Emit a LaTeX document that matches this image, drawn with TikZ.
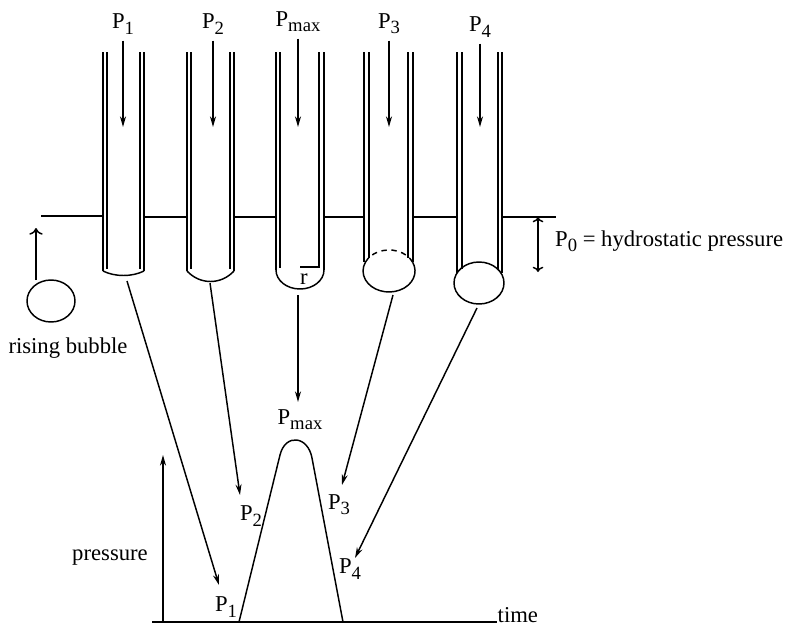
\documentclass[tikz,border=0pt]{standalone}
\usepackage{fontspec}
\setmainfont{Liberation Serif}
\usetikzlibrary{arrows.meta}
\newcommand{\Psub}[1]{P\raisebox{-0.5ex}{\fontsize{14}{14}\selectfont #1}}

\begin{document}
\begin{tikzpicture}[x=0.75pt,y=0.75pt,yscale=-1,xscale=1,line width=1.1pt,
  font=\fontsize{17}{20}\selectfont,
  arr/.style={-{Stealth[length=8pt,width=4.5pt]}},
  openarr/.style={-{To[length=5pt,width=10pt]}}]
\useasboundingbox (0,0) rectangle (786,625);

% Text Node: pressures applied at the top of each tube
\node (tP1) at (123,24) {\Psub{1}};
\node (tP2) at (213,24) {\Psub{2}};
\node (tPmax) at (298,22) {\Psub{max}};
\node (tP3) at (389,24) {\Psub{3}};
\node (tP4) at (480,27) {\Psub{4}};
\coordinate (e1) at (123,127);
\coordinate (e2) at (213,127);
\coordinate (e3) at (298,127);
\coordinate (e4) at (389,127);
\coordinate (e5) at (480,127);
\draw[arr, shorten <=1pt] (tP1) -- (e1);
\draw[arr, shorten <=1pt] (tP2) -- (e2);
\draw[arr, shorten <=1pt] (tPmax) -- (e3);
\draw[arr, shorten <=1pt] (tP3) -- (e4);
\draw[arr, shorten <=1pt] (tP4) -- (e5);

%Straight Lines: liquid surface between the tubes
\draw (41,216) -- (103,216);
\draw (144,217) -- (187,217);
\draw (234,217) -- (276,217);
\draw (324,217) -- (364,217);
\draw (413,217) -- (457,217);
\draw (502,217) -- (556,217);

%Shape: Tube 1, flat meniscus
\draw (103,52) -- (103,271);
\draw (107,52) -- (107,269);
\draw (140,52) -- (140,269);
\draw (144,52) -- (144,271);
\draw (103,271) .. controls (115,277) and (132,277) .. (144,271);

%Shape: Tube 2, curved meniscus
\draw (187,52) -- (187,271);
\draw (191,52) -- (191,269);
\draw (230,52) -- (230,269);
\draw (234,52) -- (234,271);
\draw (187,271) .. controls (200,285) and (221,285) .. (234,271);

%Shape: Tube 3, hemisphere of radius r
\draw (276,52) -- (276,270);
\draw (280,52) -- (280,268);
\draw (319,52) -- (319,268);
\draw (324,52) -- (324,270);
\draw (324,270) arc[start angle=0,end angle=180,x radius=24,y radius=19];
\draw (300,267) -- (319,267);
\node (rlab) at (304,279) {r};

%Shape: Tube 4, bubble growing past the tip
\draw (364,52) -- (364,262);
\draw (369,52) -- (369,258);
\draw (408,52) -- (408,258);
\draw (413,52) -- (413,262);
\draw (412.6,262.1) arc[start angle=-25,end angle=205,x radius=26,y radius=21];
\draw[dash pattern=on 4pt off 3.5pt] (412.6,262.1) arc[start angle=-25,end angle=-155,x radius=26,y radius=21];

%Shape: Tube 5, detaching bubble
\draw (457,52) -- (457,273);
\draw (462,52) -- (462,269);
\draw (498,52) -- (498,269);
\draw (502,52) -- (502,273);
\draw (479,283) ellipse [x radius=25,y radius=21];

%Double Arrow: immersion depth
\coordinate (d0) at (538,217);
\coordinate (d1) at (538,272);
\draw[{To[length=4pt,width=8pt]}-{To[length=4pt,width=8pt]}] (d0) -- (d1);
\node[anchor=west] (hydro) at (550,241) {\Psub{0} = hydrostatic pressure};

%Shape: rising bubble
\draw (51,301) ellipse [x radius=24,y radius=21];
\coordinate (rb0) at (36,280);
\coordinate (rb1) at (36,228);
\draw[openarr] (rb0) -- (rb1);
\node (rising) at (68,348) {rising bubble};

%Axes of the pressure trace
\coordinate (o) at (163,622);
\coordinate (ytop) at (163,455);
\coordinate (xl) at (152,622);
\coordinate (xr) at (497,622);
\draw[arr] (o) -- (ytop);
\draw (xl) -- (xr);
\node[anchor=base west, inner sep=0pt] (time) at (xr) {time};
\node (pressure) at (110,558) {pressure};

% pressure peak
\draw (239,622) -- (280,455) .. controls (285.5,433) and (308,436) .. (312,458) -- (343,622);

% Text Node: points on the trace
\node (gPmax) at (300,420) {\Psub{max}};
\node (gP1) at (226,607) {\Psub{1}};
\node (gP2) at (251,516) {\Psub{2}};
\node (gP3) at (339,505) {\Psub{3}};
\node (gP4) at (350,569) {\Psub{4}};

%Arrows from each tube to the trace
\coordinate (b1) at (127,281);
\coordinate (b2) at (210,283);
\coordinate (b3) at (298,295);
\coordinate (b4) at (393,295);
\coordinate (b5) at (477,308);
\coordinate (c1) at (219,585);
\coordinate (c2) at (240,495);
\coordinate (c3) at (298,402);
\coordinate (c4) at (342,485);
\coordinate (c5) at (355,558);
\draw[arr] (b1) -- (c1);
\draw[arr] (b2) -- (c2);
\draw[arr] (b3) -- (c3);
\draw[arr] (b4) -- (c4);
\draw[arr] (b5) -- (c5);

\end{tikzpicture}
\end{document}
